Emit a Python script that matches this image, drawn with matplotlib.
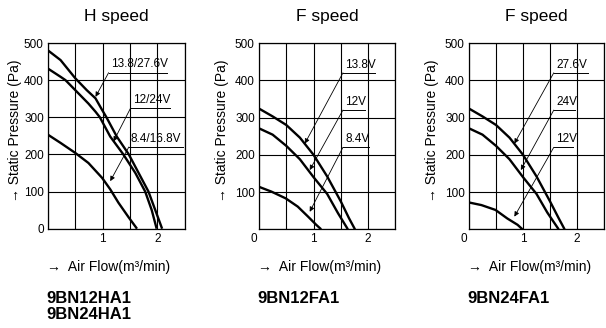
import matplotlib
matplotlib.use("Agg")
import matplotlib.pyplot as plt
from matplotlib.transforms import ScaledTranslation

plt.rcParams['font.family'] = ['Liberation Sans', 'DejaVu Sans', 'Noto Sans CJK JP']

# ---- data ----
# H speed (9BN12HA1 / 9BN24HA1)
h_flow_hi = [0, 0.23, 0.50, 0.71, 0.87, 0.99, 1.07, 1.26, 1.48, 1.66, 1.84, 1.96, 2.09]
h_pres_hi = [480, 454, 405, 373, 351, 320, 300, 248, 200, 150, 100, 52, 0]
h_flow_mid = [0, 0.23, 0.32, 0.50, 0.74, 0.87, 0.95, 1.14, 1.38, 1.60, 1.78, 1.90, 1.99]
h_pres_mid = [431, 409, 400, 373, 337, 315, 300, 248, 200, 150, 100, 50, 0]
h_flow_lo = [0, 0.23, 0.50, 0.74, 0.99, 1.14, 1.29, 1.48, 1.63]
h_pres_lo = [253, 231, 204, 177, 137, 106, 70, 30, 0]

# F speed 12V (9BN12FA1)
f12_flow_hi = [0, 0.25, 0.50, 0.75, 1.00, 1.25, 1.50, 1.65, 1.76]
f12_pres_hi = [324, 303, 280, 246, 200, 142, 75, 30, 0]
f12_flow_mid = [0, 0.25, 0.50, 0.75, 1.00, 1.25, 1.45, 1.63]
f12_pres_mid = [271, 254, 224, 188, 140, 95, 43, 0]
f12_flow_lo = [0, 0.23, 0.49, 0.71, 0.90, 1.05, 1.14]
f12_pres_lo = [114, 101, 83, 61, 34, 12, 0]

# F speed 24V (9BN24FA1)
f24_flow_hi = [0, 0.25, 0.50, 0.75, 1.00, 1.25, 1.50, 1.66, 1.77]
f24_pres_hi = [324, 303, 280, 246, 200, 142, 75, 30, 0]
f24_flow_mid = [0, 0.25, 0.50, 0.75, 1.00, 1.25, 1.45, 1.66]
f24_pres_mid = [271, 254, 224, 188, 140, 95, 45, 0]
f24_flow_lo = [0, 0.23, 0.49, 0.71, 0.90, 0.99]
f24_pres_lo = [72, 65, 52, 29, 12, 0]

titles = ['H speed', 'F speed', 'F speed']
models = ['9BN12HA1\n9BN24HA1', '9BN12FA1', '9BN24FA1']
labels_h = ['13.8/27.6V', '12/24V', '8.4/16.8V']
labels_f12 = ['13.8V', '12V', '8.4V']
labels_f24 = ['27.6V', '24V', '12V']

W, H = 606, 328
fig = plt.figure(figsize=(W / 100, H / 100), dpi=100)

def box(l, r, t, b):
    return [l / W, 1 - b / H, (r - l) / W, (b - t) / H]

panels = [
    dict(rect=box(48, 184.5, 43, 228.7),
         curves=[(h_flow_hi, h_pres_hi), (h_flow_mid, h_pres_mid), (h_flow_lo, h_pres_lo)],
         labels=labels_h,
         # underline y, x0, x1, arrow tip
         notes=[(420, 1.11, 2.18, (0.87, 355)), (324, 1.51, 2.24, (1.20, 235)), (220, 1.48, 2.48, (1.14, 128))],
         ylab_x=15),
    dict(rect=box(259, 395.3, 43, 229.3),
         curves=[(f12_flow_hi, f12_pres_hi), (f12_flow_mid, f12_pres_mid), (f12_flow_lo, f12_pres_lo)],
         labels=labels_f12,
         notes=[(420, 1.54, 2.12, (0.84, 230)), (320, 1.54, 1.95, (0.93, 159)), (220, 1.54, 2.02, (0.93, 47))],
         ylab_x=222),
    dict(rect=box(469, 604, 43, 229.3),
         curves=[(f24_flow_hi, f24_pres_hi), (f24_flow_mid, f24_pres_mid), (f24_flow_lo, f24_pres_lo)],
         labels=labels_f24,
         notes=[(420, 1.57, 2.21, (0.84, 230)), (320, 1.57, 1.96, (0.96, 159)), (220, 1.57, 1.93, (0.84, 34))],
         ylab_x=432),
]

for i, p in enumerate(panels):
    ax = fig.add_axes(p['rect'])
    ax.set_xlim(0, 2.5)
    ax.set_ylim(0, 500)
    ax.set_xticks([0, 0.5, 1, 1.5, 2, 2.5])
    ax.set_yticks([0, 100, 200, 300, 400, 500])
    if i == 0:
        ax.set_xticklabels(['', '', '1', '', '2', ''])
        ax.set_yticklabels(['0', '100', '200', '300', '400', '500'])
    else:
        ax.set_xticklabels(['0', '', '1', '', '2', ''])
        ax.set_yticklabels(['', '100', '200', '300', '400', '500'])
    ax.tick_params(length=0, labelsize=8.5, pad=3)
    ax.grid(True, color='black', lw=0.8)
    ax.set_axisbelow(True)
    for s in ax.spines.values():
        s.set_color('black')
        s.set_linewidth(0.9)
    if i > 0:
        lab = ax.get_xticklabels()[0]
        lab.set_transform(lab.get_transform() + ScaledTranslation(-5 / 100, 0, fig.dpi_scale_trans))

    for fx, py in p['curves']:
        ax.plot(fx, py, color='black', lw=1.7, solid_capstyle='butt')

    for text, (uy, x0, x1, tip) in zip(p['labels'], p['notes']):
        ax.plot([x0, x1], [uy, uy], color='black', lw=0.7, clip_on=False)
        ax.text(x0 + 0.04, uy + 6, text, fontsize=8.5, ha='left', va='bottom')
        ax.annotate('', xy=tip, xytext=(x0, uy),
                    arrowprops=dict(arrowstyle='-|>', lw=0.6, color='black',
                                    mutation_scale=7, shrinkA=0, shrinkB=0))

    cx = (p['rect'][0] + p['rect'][2] / 2)
    fig.text(cx, 1 - 17 / H, titles[i], fontsize=12.5, ha='center', va='center')
    fig.text(p['ylab_x'] / W, 1 - 131 / H, '→ Static Pressure (Pa)', fontsize=10,
             rotation=90, ha='center', va='center')
    left = p['rect'][0]
    fig.text(left - 1 / W, 1 - 267 / H, '→  Air Flow(m³/min)', fontsize=10,
             ha='left', va='center')
    fig.text(left - 2 / W, 1 - 291 / H, models[i], fontsize=12, fontweight='bold',
             ha='left', va='top', linespacing=1.05)

fig.savefig('out.png', dpi=100)
